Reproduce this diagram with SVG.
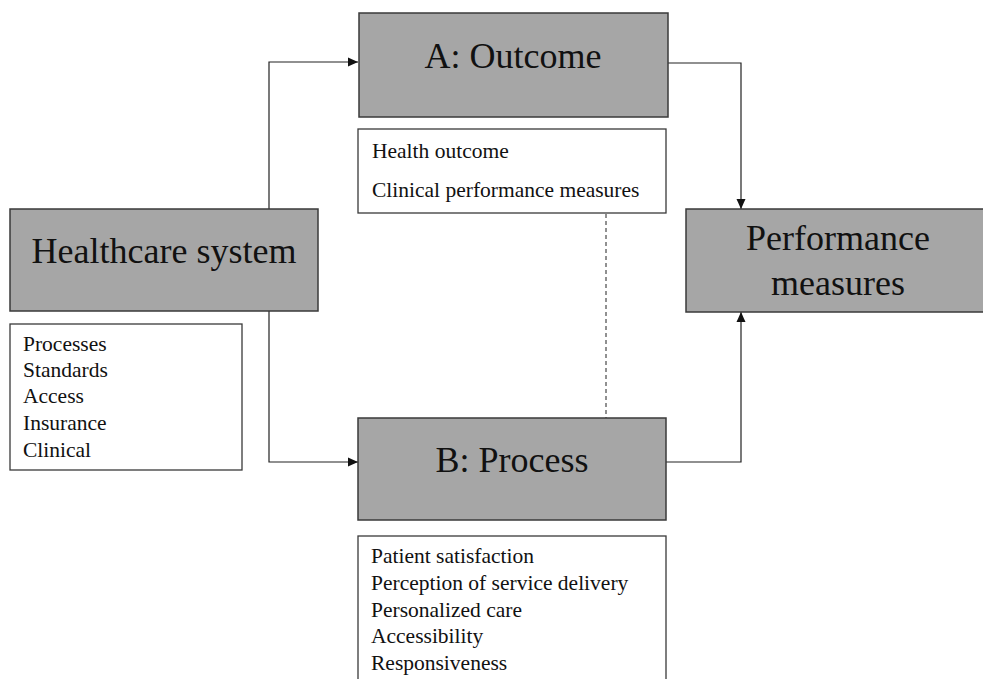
<svg xmlns="http://www.w3.org/2000/svg" width="983" height="679" viewBox="0 0 983 679">
  <style>
    .box { fill: #a6a6a6; stroke: #3a3a3a; stroke-width: 1.5; }
    .note { fill: #ffffff; stroke: #3a3a3a; stroke-width: 1.3; }
    .big { font-size: 36px; fill: #111; text-anchor: middle; }
    .small { font-size: 21.5px; fill: #111; }
    .link { fill: none; stroke: #222; stroke-width: 1.2; }
    .dash { fill: none; stroke: #222; stroke-width: 1; stroke-dasharray: 4 3; }
  </style>
  <defs>
    <marker id="arrow" viewBox="0 0 10 10" refX="10" refY="5" markerWidth="10" markerHeight="10" markerUnits="userSpaceOnUse" orient="auto">
      <path d="M0,0.5 L10,5 L0,9.5 Z" fill="#111"/>
    </marker>
  </defs>
  <rect width="983" height="679" fill="#ffffff"/>

  <g id="connectors">
    <path class="link" d="M269,209 V62 H358" marker-end="url(#arrow)"/>
    <path class="link" d="M269,311 V462 H358" marker-end="url(#arrow)"/>
    <path class="link" d="M668,63 H741 V209" marker-end="url(#arrow)"/>
    <path class="link" d="M666,462 H741 V312" marker-end="url(#arrow)"/>
    <path class="dash" d="M606,214 V418"/>
  </g>

  <g font-family="Liberation Serif, DejaVu Serif, serif">
    <g id="healthcare-system">
      <rect class="box" x="10" y="209" width="308" height="102"/>
      <text class="big" x="164" y="263">Healthcare system</text>
    </g>

    <g id="healthcare-list">
      <rect class="note" x="10" y="324" width="232" height="146"/>
      <text class="small" x="23" y="351">Processes</text>
      <text class="small" x="23" y="377">Standards</text>
      <text class="small" x="23" y="403">Access</text>
      <text class="small" x="23" y="430">Insurance</text>
      <text class="small" x="23" y="457">Clinical</text>
    </g>

    <g id="outcome">
      <rect class="box" x="359" y="13" width="309" height="104"/>
      <text class="big" x="513" y="68">A: Outcome</text>
    </g>

    <g id="outcome-list">
      <rect class="note" x="358" y="129" width="308" height="84"/>
      <text class="small" x="372" y="158">Health outcome</text>
      <text class="small" x="372" y="197">Clinical performance measures</text>
    </g>

    <g id="process">
      <rect class="box" x="358" y="418" width="308" height="102"/>
      <text class="big" x="512" y="472">B: Process</text>
    </g>

    <g id="process-list">
      <rect class="note" x="358" y="536" width="308" height="150"/>
      <text class="small" x="371" y="563">Patient satisfaction</text>
      <text class="small" x="371" y="590">Perception of service delivery</text>
      <text class="small" x="371" y="617">Personalized care</text>
      <text class="small" x="371" y="643">Accessibility</text>
      <text class="small" x="371" y="670">Responsiveness</text>
    </g>

    <g id="performance-measures">
      <rect class="box" x="686" y="209" width="305" height="103"/>
      <text class="big" x="838" y="250">Performance</text>
      <text class="big" x="838" y="295">measures</text>
    </g>
  </g>
</svg>
